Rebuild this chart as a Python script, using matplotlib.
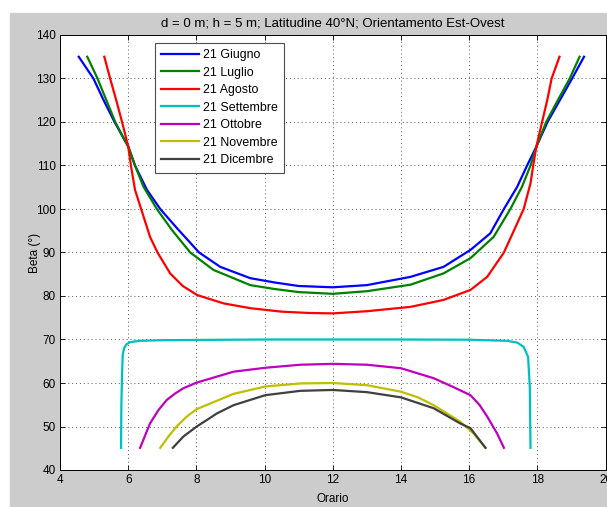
import matplotlib
matplotlib.use("Agg")
import matplotlib.pyplot as plt
from matplotlib.patches import Rectangle

# ---------------------------------------------------------------------------
# Data (ora, beta in gradi)
# ---------------------------------------------------------------------------
giugno_h = [4.55, 4.98, 5.28, 5.6, 5.85, 6.0, 6.2, 6.55, 6.94, 7.43, 8.08, 8.7,
            9.58, 10.3, 11.0, 12.0, 13.0, 14.28, 15.25, 16.04, 16.62, 17.02,
            17.41, 17.7, 17.97, 18.3, 18.66, 19.02, 19.37]
giugno_b = [135, 130, 125, 120, 116.5, 114.4, 110, 104.4, 100, 95.6, 90, 86.7,
            84.1, 83.1, 82.3, 82.0, 82.5, 84.4, 86.7, 90.6, 94.4, 100,
            105.1, 110, 114.3, 120, 125, 130, 135]

luglio_h = [4.8, 5.1, 5.36, 5.62, 5.85, 6.0, 6.2, 6.45, 6.84, 7.28, 7.82, 8.5,
            9.58, 10.3, 11.0, 12.0, 13.0, 14.28, 15.25, 16.04, 16.72, 17.21,
            17.55, 17.8, 17.97, 18.26, 18.6, 18.95, 19.24]
luglio_b = [135, 130, 125, 120, 116.5, 114.4, 110, 105.1, 100, 95.2, 90, 86.0,
            82.5, 81.6, 80.9, 80.5, 81.1, 82.6, 85.2, 88.7, 93.6, 100,
            105.1, 110, 114.3, 120, 125, 130, 135]

agosto_h = [5.3, 5.47, 5.65, 5.82, 6.0, 6.08, 6.2, 6.38, 6.64, 6.86, 7.23, 7.6,
            8.03, 8.8, 9.58, 10.5, 11.3, 12.0, 13.0, 14.28, 15.25, 16.04,
            16.53, 17.02, 17.41, 17.6, 17.8, 17.88, 17.97, 18.14, 18.29, 18.42,
            18.65]
agosto_b = [135, 130, 125, 120, 114.4, 110, 104.4, 100, 93.6, 90, 85.2, 82.3,
            80.2, 78.3, 77.2, 76.4, 76.1, 76.0, 76.5, 77.5, 79.1, 81.4,
            84.4, 90, 96.7, 100, 105.9, 110, 114.3, 120, 125, 130,
            135]

settembre_h = [5.79, 5.8, 5.82, 5.84, 5.88, 5.95, 6.06, 6.35, 7.1, 8.0, 10.0,
               12.0, 14.0, 16.0, 17.1, 17.41, 17.6, 17.73, 17.78, 17.8]
settembre_b = [45.1, 55, 62, 66.5, 68, 68.9, 69.4, 69.7, 69.85, 69.9, 70,
               70, 70, 69.95, 69.7, 69.3, 68.3, 66, 59, 45.1]

ottobre_h = [6.35, 6.64, 6.89, 7.13, 7.38, 7.62, 8.01, 9.09, 10.02, 11.05, 12.0,
             13.0, 14.0, 14.96, 15.5, 16.04, 16.3, 16.53, 16.82, 17.02]
ottobre_b = [45.1, 50.7, 53.8, 56.1, 57.6, 58.8, 60.1, 62.6, 63.5, 64.2, 64.4,
             64.2, 63.4, 61.1, 59.2, 57.2, 55.0, 52.3, 48.4, 45.1]

novembre_h = [6.94, 7.18, 7.42, 7.72, 8.01, 9.09, 10.02, 11.05, 12.0, 13.0,
              14.0, 14.5, 14.96, 15.74, 16.13, 16.48]
novembre_b = [45.1, 47.7, 50.0, 52.3, 54.0, 57.5, 59.2, 59.9, 60.0, 59.5,
              58.0, 56.7, 54.9, 51.1, 48.4, 45.1]

dicembre_h = [7.31, 7.62, 8.01, 8.31, 8.6, 9.09, 10.02, 11.05, 12.0, 13.0,
              14.0, 14.96, 15.74, 16.04, 16.48]
dicembre_b = [45.1, 47.7, 50.0, 51.5, 53.0, 54.9, 57.2, 58.2, 58.4, 57.9,
              56.7, 54.2, 50.7, 49.6, 45.1]

labels = ["21 Giugno", "21 Luglio", "21 Agosto", "21 Settembre",
          "21 Ottobre", "21 Novembre", "21 Dicembre"]
colors = ["#0000ff", "#008000", "#ff0000", "#00bfbf",
          "#bf00bf", "#bfbf00", "#404040"]

series = [
    (giugno_h, giugno_b),
    (luglio_h, luglio_b),
    (agosto_h, agosto_b),
    (settembre_h, settembre_b),
    (ottobre_h, ottobre_b),
    (novembre_h, novembre_b),
    (dicembre_h, dicembre_b),
]

plt.rcParams["font.family"] = ["Liberation Sans", "DejaVu Sans"]
FS = 8.5

fig = plt.figure(figsize=(6.07, 5.07), dpi=100)
fig.patch.set_facecolor("white")
# grey MATLAB-style figure area (screenshot has a thin white margin top/left)
fig.add_artist(Rectangle((10 / 607, 0), 1, (507 - 13) / 507,
                         transform=fig.transFigure, color="#cccccc", zorder=-10))

ax = fig.add_axes([60 / 607, 37 / 507, 545.5 / 607, 435 / 507])
ax.set_facecolor("white")

for (h, b), lab, col in zip(series, labels, colors):
    ax.plot(h, b, color=col, lw=1.6, label=lab, solid_joinstyle="round")

ax.set_xlim(4, 20)
ax.set_ylim(40, 140)
ax.set_xticks(range(4, 21, 2))
ax.set_yticks(range(40, 141, 10))
ax.tick_params(direction="in", top=True, right=True, length=3.6, width=0.6,
               labelsize=FS, pad=3)
ax.grid(True, linestyle=(0, (1, 3)), color="0.35", lw=0.7)
for s in ax.spines.values():
    s.set_linewidth(0.7)

ax.set_title("d = 0 m; h = 5 m; Latitudine 40°N; Orientamento Est-Ovest",
             fontsize=9.5, pad=6)
ax.set_xlabel("Orario", fontsize=FS, labelpad=5)
ax.set_ylabel("Beta (°)", fontsize=FS)
ax.yaxis.set_label_coords(-0.035, 0.5)

leg = ax.legend(loc="upper left", bbox_to_anchor=(0.174, 0.982),
                borderaxespad=0, fontsize=8.9, handlelength=3.1,
                handletextpad=0.3, labelspacing=0.45, fancybox=False,
                framealpha=1, edgecolor="0.3", borderpad=0.5)
leg.get_frame().set_linewidth(0.8)

fig.savefig("out.png", dpi=100)
